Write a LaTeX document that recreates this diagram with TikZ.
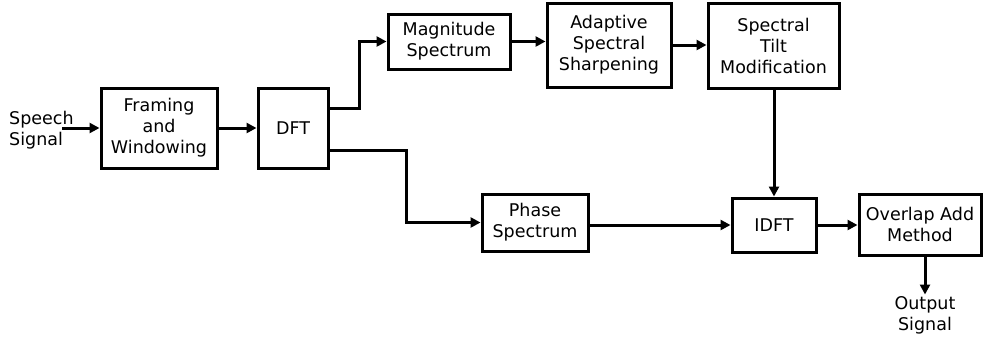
\documentclass[tikz,border=0pt]{standalone}
\usepackage{fontspec}
\setmainfont{DejaVu Sans}
\usetikzlibrary{arrows.meta,calc}
\begin{document}
\begin{tikzpicture}[x=1pt,y=-1pt,
  every node/.style={font=\fontsize{17.5}{21}\selectfont, align=center},
  block/.style={draw, line width=3pt, inner sep=0pt, minimum width=#1},
  flow/.style={line width=3pt, -{Triangle[length=10pt,width=10pt]}},
  label/.style={inner sep=0pt}]
\useasboundingbox (0,0) rectangle (984,341);

\node[block=116pt, minimum height=80pt] (frame) at (159,128) {Framing\\and\\Windowing};
\node[block=70pt, minimum height=80pt] (dft) at (293,128) {DFT};
\node[block=122pt, minimum height=55pt] (mag) at (449,41.5) {Magnitude\\Spectrum};
\node[block=124pt, minimum height=84pt] (asp) at (609,45) {Adaptive\\Spectral\\Sharpening};
\node[block=131pt, minimum height=85pt] (stm) at (773.5,46) {Spectral\\Tilt\\Modification};
\node[block=106pt, minimum height=57pt] (phase) at (535,222.5) {Phase\\Spectrum};
\node[block=84pt, minimum height=54pt] (idft) at (774,225) {IDFT};
\node[block=122pt, minimum height=61pt] (ola) at (920,224.5) {Overlap Add\\Method};

\node[label, anchor=west, align=left] (speech) at (9,130) {Speech\\Signal};
\node[label] (out) at (925,315) {Output\\Signal};
\coordinate (in) at (62,128);

\draw[flow] (in) -- (frame.west);
\draw[flow] (frame.east) -- (dft.west);
\draw[flow] ($(dft.east)+(0,-20)$) -- ++(30,0) |- (mag.west);
\draw[flow] ($(dft.east)+(0,22)$) -- ++(77,0) |- (phase.west);
\draw[flow] (mag.east) -- (mag.east -| asp.west);
\draw[flow] (asp.east) -- (asp.east -| stm.west);
\draw[flow] (stm.south -| idft.north) -- (idft.north);
\draw[flow] (idft.west -| phase.east) -- (idft.west);
\draw[flow] (idft.east) -- (idft.east -| ola.west);
\draw[flow] ($(ola.south)+(5,0)$) -- ++(0,38);
\end{tikzpicture}
\end{document}
